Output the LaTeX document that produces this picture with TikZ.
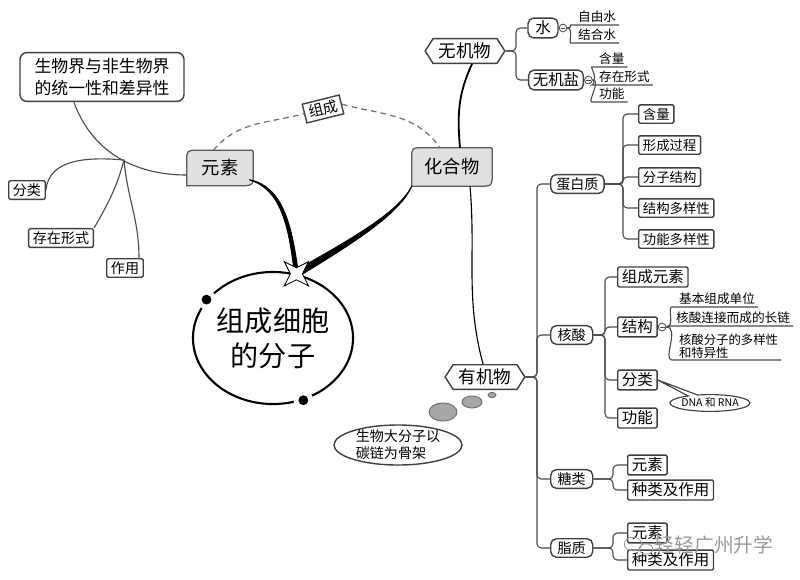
\documentclass[tikz,border=0pt]{standalone}
\usepackage{fontspec}
\setmainfont{Noto Sans CJK SC}
\usetikzlibrary{calc,positioning,shapes.geometric,shapes.symbols,shapes.callouts,backgrounds}

\tikzset{
	branch/.style={draw=black!70, line width=0.8pt, rounded corners=3pt},
	armline/.style={draw=black, line width=0.8pt},
	dashlink/.style={draw=black!55, line width=0.9pt, dash pattern=on 4pt off 3pt},
	plainbox/.style={draw=black!75, line width=1pt, fill=white, inner xsep=3pt, inner ysep=2pt},
	sidebox/.style={plainbox, rounded corners=1pt, font=\fontsize{10}{12}\selectfont},
	topbox/.style={plainbox, rounded corners=5pt, align=left, minimum width=4.1cm, minimum height=1.22cm, font=\fontsize{12}{15.5}\selectfont},
	catbox/.style={plainbox, rounded corners=4pt, inner xsep=4pt, minimum width=1.05cm, minimum height=0.45cm, font=\fontsize{10}{12}\selectfont},
	subbox/.style={plainbox, rounded corners=1pt, minimum height=0.46cm, font=\fontsize{9.5}{11}\selectfont},
	nabox/.style={subbox, minimum height=0.48cm, font=\fontsize{11}{13}\selectfont},
	hexbox/.style={signal, signal to=west and east, signal pointer angle=115, draw=black!75, line width=1pt, fill=white, inner xsep=4pt, inner ysep=3pt, font=\fontsize{12.5}{14}\selectfont},
	leafnode/.style={inner sep=0pt, font=\fontsize{13}{15}\selectfont},
	leafline/.style={draw=black!65, line width=0.9pt, fill=black!12},
	uleaf/.style={anchor=south west, inner xsep=2pt, inner ysep=1.5pt, align=left, font=\fontsize{9}{10.5}\selectfont},
	fold/.style={circle, draw=black!70, line width=0.6pt, fill=white, inner sep=0pt, minimum size=5.5pt,
		path picture={\draw[line width=0.4pt] ([xshift=1pt]path picture bounding box.west) -- ([xshift=-1pt]path picture bounding box.east);}},
	cellnode/.style={ellipse, draw, line width=1.5pt, inner sep=0pt, minimum width=4cm, minimum height=3.3cm, align=center, font=\fontsize{20}{25}\selectfont},
	puff/.style={ellipse, draw=black!60, line width=0.6pt, fill=black!35, inner sep=0pt},
	thoughtnote/.style={ellipse, draw=black!75, line width=1pt, fill=white, inner xsep=0pt, inner ysep=-3pt, minimum width=3.2cm, minimum height=1cm, align=left, font=\fontsize{10}{12}\selectfont},
}

\newcommand{\leafback}[1]{%
	\begin{scope}[on background layer]
		\draw[leafline] (#1.south west) -- ([yshift=-8pt]#1.north west)
			.. controls (#1.north west) .. ([xshift=8pt]#1.north west)
			-- ([xshift=-3pt]#1.north east)
			.. controls (#1.north east) .. ([yshift=-3pt]#1.north east)
			-- ([yshift=10pt]#1.south east)
			.. controls (#1.south east) .. ([xshift=-10pt]#1.south east)
			-- cycle;
	\end{scope}}

\begin{document}
\begin{tikzpicture}[x=0.025cm, y=0.025cm]

	\useasboundingbox (0,0) rectangle (800,-579);

% molecules of the cell %{{{2

	\node[cellnode] (cell) at (273,-338) {组成细胞\\的分子};
	\fill[white] (cell.150) circle (7pt);
	\fill[white] (cell.-64) circle (7pt);
	\fill (cell.150) circle (3.5pt);
	\fill (cell.-64) circle (3.5pt);
	\coordinate (hub) at (cell.70);

% elements and compounds %{{{2

	\node[leafnode, minimum width=1.65cm, minimum height=0.875cm] (ys) at (220,-168) {元素};
	\node[leafnode, minimum width=2cm, minimum height=0.95cm] (hh) at (452,-167) {化合物};
	\leafback{ys}
	\leafback{hh}

% composition link %{{{2

	\node[plainbox, rotate=14, font=\fontsize{10.5}{12}\selectfont] (zc) at (323,-109) {组成};
	\draw[dashlink] ($(ys.north west)!0.4!(ys.north east)$) to[out=50, in=195] (zc.west);
	\draw[dashlink] (zc.east) to[out=-15, in=125] ($(hh.north west)!0.35!(hh.north east)$);

% arms to the cell %{{{2

	\filldraw[armline] ($(ys.south east)+(-4,6)$) .. controls (283,-186) and (292,-226) .. ([xshift=1.4pt]hub)
		-- ([xshift=-1.4pt]hub) .. controls (289,-226) and (281,-189) .. ($(ys.south east)+(-4,6)$) -- cycle;
	\filldraw[armline] (hh.south west) .. controls (400,-212) and (362,-238) .. ([shift={(1.1pt,-2.1pt)}]hub)
		-- ([shift={(-1.1pt,2.1pt)}]hub) .. controls (359,-235) and (399,-211) .. (hh.south west) -- cycle;
	\node[star, star points=4, star point ratio=0.35, draw, line width=0.6pt, fill=white, inner sep=0pt, minimum size=0.3cm] (st) at (hub) {};

% left side %{{{2

	\node[topbox] (tb) at (102,-77) {生物界与非生物界\\的统一性和差异性};
	\node[sidebox] (fl) at (27,-190) {分类};
	\node[sidebox] (cz) at (61,-238) {存在形式};
	\node[sidebox] (zy) at (125,-268) {作用};
	\coordinate (lj) at (124,-160);

	\draw[branch] ($(tb.south west)!0.33!(tb.south east)$) to[out=-70, in=180] ($(ys.west)+(0,-7)$);
	\draw[branch] (lj) to[out=175, in=85] (fl.east);
	\draw[branch] (lj) to[out=-105, in=60] (cz.north east);
	\draw[branch] (lj) to[out=-85, in=90] ($(zy.north east)+(-5,0)$);

% inorganic %{{{2

	\node[hexbox] (wjw) at (465,-51) {无机物};
	\draw[armline, line width=1.3pt] ($(hh.north)+(8,0)$) to[out=95, in=-115] ($(wjw.south)+(7,0)$);

	\node[plainbox, rounded corners=4pt, minimum width=0.75cm, font=\fontsize{11}{13}\selectfont] (sw) at (543,-28) {水};
	\node[plainbox, rounded corners=4pt, font=\fontsize{11}{13}\selectfont] (wjy) at (556,-80) {无机盐};
	\coordinate (wj) at (516,-51);
	\draw[branch] (wjw.east) -- (wj) |- (sw.west);
	\draw[branch] (wjw.east) -- (wj) |- (wjy.west);

	\node[fold, right=0pt of sw] (wf1) {};
	\node[fold, right=0pt of wjy] (wf2) {};

	\node[uleaf] (zys) at (575,-25) {自由水};
	\node[uleaf] (jhs) at (575,-43) {结合水};
	\draw[branch] (wf1.east) to[out=0, in=180] (zys.south west) -- (zys.south east);
	\draw[branch] (wf1.east) to[out=0, in=180] (jhs.south west) -- (jhs.south east);

	\node[uleaf] (wl1) at (596,-67) {含量};
	\node[uleaf] (wl2) at (596,-85) {存在形式};
	\node[uleaf] (wl3) at (596,-102) {功能};
	\draw[branch] (wf2.east) to[out=0, in=180] (wl1.south west) -- (wl1.south east);
	\draw[branch] (wf2.east) to[out=0, in=180] (wl2.south west) -- (wl2.south east);
	\draw[branch] (wf2.east) to[out=0, in=180] (wl3.south west) -- (wl3.south east);

% organic %{{{2

	\node[hexbox] (yjw) at (485,-377) {有机物};
	\draw[armline] ($(hh.south)+(18,0)$) to[out=-85, in=105] ($(yjw.north)+(-2,0)$);

	\node[puff, minimum width=0.2cm, minimum height=0.13cm] (b1) at (492,-395) {};
	\node[puff, minimum width=0.5cm, minimum height=0.3cm] (b2) at (472,-402) {};
	\node[puff, minimum width=0.7cm, minimum height=0.45cm] (b3) at (443,-412) {};
	\node[thoughtnote] (dfz) at (398,-445) {生物大分子以\\碳链为骨架};

	\coordinate (yj) at (537,-377);
	\node[catbox, anchor=west] (dbz) at (550,-184) {蛋白质};
	\node[catbox, anchor=west] (hs) at (550,-335) {核酸};
	\node[catbox, anchor=west] (tl) at (550,-479) {糖类};
	\node[catbox, anchor=west] (zz) at (550,-548) {脂质};
	\draw[branch] (yjw.east) -- (yj) |- (dbz.west);
	\draw[branch] (yjw.east) -- (yj) |- (hs.west);
	\draw[branch] (yjw.east) -- (yj) |- (tl.west);
	\draw[branch] (yjw.east) -- (yj) |- (zz.west);

% protein %{{{2

	\coordinate (dj) at (623,-184);
	\node[subbox, anchor=west] (dl1) at (638,-114) {含量};
	\node[subbox, anchor=west] (dl2) at (638,-145) {形成过程};
	\node[subbox, anchor=west] (dl3) at (638,-177) {分子结构};
	\node[subbox, anchor=west] (dl4) at (638,-208) {结构多样性};
	\node[subbox, anchor=west] (dl5) at (638,-239) {功能多样性};
	\draw[branch] (dbz.east) -- (dj) |- (dl1.west);
	\draw[branch] (dbz.east) -- (dj) |- (dl2.west);
	\draw[branch] (dbz.east) -- (dj) |- (dl3.west);
	\draw[branch] (dbz.east) -- (dj) |- (dl4.west);
	\draw[branch] (dbz.east) -- (dj) |- (dl5.west);

% nucleic acid %{{{2

	\coordinate (hj) at (605,-335);
	\node[nabox, anchor=west] (hl1) at (617,-277) {组成元素};
	\node[nabox, anchor=west] (hl2) at (617,-327) {结构};
	\node[nabox, anchor=west] (hl3) at (617,-380) {分类};
	\node[nabox, anchor=west] (hl4) at (617,-418) {功能};
	\draw[branch] (hs.east) -- (hj) |- (hl1.west);
	\draw[branch] (hs.east) -- (hj) |- (hl2.west);
	\draw[branch] (hs.east) -- (hj) |- (hl3.west);
	\draw[branch] (hs.east) -- (hj) |- (hl4.west);

	\node[fold, right=0pt of hl2] (jf) {};
	\node[uleaf] (jl1) at (676,-307) {基本组成单位};
	\node[uleaf] (jl2) at (673,-326) {核酸连接而成的长链};
	\node[uleaf, inner ysep=0.5pt, font=\fontsize{8.8}{9.8}\selectfont] (jl3) at (676,-360) {核酸分子的多样性\\和特异性};
	\draw[branch] (jf.east) to[out=0, in=180] (jl1.south west) -- (jl1.south east);
	\draw[branch] (jf.east) to[out=0, in=180] (jl2.south west) -- (jl2.south east);
	\draw[branch] (jf.east) to[out=0, in=180] (jl3.south west) -- (jl3.south east);

	\node[ellipse callout, draw=black!75, line width=0.8pt, fill=white, inner xsep=-8pt, inner ysep=-1pt,
		minimum width=2cm, minimum height=0.42cm, callout absolute pointer={(hl3.east)},
		font=\fontsize{7.5}{9}\selectfont] (dr) at (710,-403) {DNA 和 RNA};

% sugars and lipids %{{{2

	\coordinate (tj) at (613,-479);
	\node[nabox, anchor=west] (tl1) at (627,-465) {元素};
	\node[nabox, anchor=west] (tl2) at (627,-490) {种类及作用};
	\draw[branch] (tl.east) -- (tj) |- (tl1.west);
	\draw[branch] (tl.east) -- (tj) |- (tl2.west);

	\coordinate (zj) at (613,-548);
	\node[nabox, anchor=west] (zl1) at (627,-533) {元素};
	\node[nabox, anchor=west] (zl2) at (627,-560) {种类及作用};
	\draw[branch] (zz.east) -- (zj) |- (zl1.west);
	\draw[branch] (zz.east) -- (zj) |- (zl2.west);

% watermark %{{{2

	\draw[black!40, line width=0.6pt] (633,-544) ellipse (0.22cm and 0.17cm);
	\draw[black!40, line width=0.6pt] (646,-549) ellipse (0.17cm and 0.13cm);
	\node[text=black!40, font=\fontsize{14}{14}\selectfont] (wm) at (714,-545) {轻轻广州升学};

\end{tikzpicture}
\end{document}
